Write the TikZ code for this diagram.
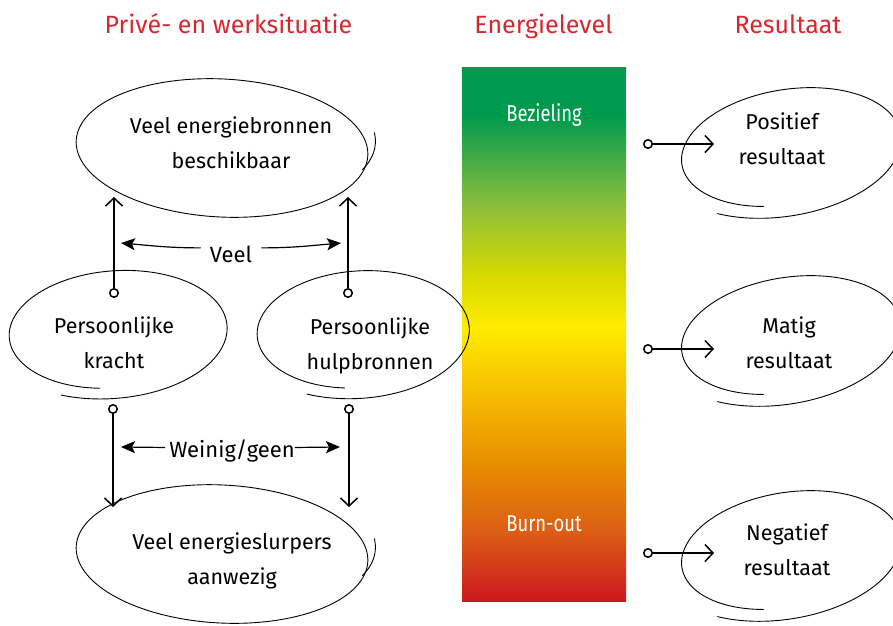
\documentclass[tikz,border=0pt]{standalone}
\usepackage{fontspec}
\setmainfont{Fira Sans}
\newfontfamily\barfont{Fira Sans}[FakeStretch=0.8]
\usetikzlibrary{arrows.meta}
\definecolor{titlered}{HTML}{D7282F}
\definecolor{gA}{HTML}{009A4E}
\definecolor{gB}{HTML}{8CBE3C}
\definecolor{gC}{HTML}{D6DA00}
\definecolor{gD}{HTML}{FFEC00}
\definecolor{gE}{HTML}{F8C300}
\definecolor{gF}{HTML}{E68A00}
\definecolor{gG}{HTML}{DC5F16}
\definecolor{gH}{HTML}{CC181E}
\newcommand{\ls}{\rule[-17.5pt]{0pt}{35pt}}
% cx, cy, rx, ry, rot, t0, t1, s0, s1   (screen coordinates, y down)
\newcommand{\spir}[9]{%
  \draw[ell] plot[smooth,samples=160,domain=#6:#7,variable=\t]
  ({#1+((#8)+((#9)-(#8))*(\t-(#6))/((#7)-(#6)))*((#3)*cos(\t)*cos(#5)-(#4)*sin(\t)*sin(#5))},
   {#2+((#8)+((#9)-(#8))*(\t-(#6))/((#7)-(#6)))*((#3)*cos(\t)*sin(#5)+(#4)*sin(\t)*cos(#5))});}
\tikzset{
  ell/.style={line width=0.9pt, line join=round, line cap=round},
  dot/.style={circle, draw, line width=1.5pt, minimum size=8.5pt, inner sep=0pt, fill=white},
  varrow/.style={line width=1.6pt, -{Straight Barb[length=8pt,width=17pt,line width=1.5pt]}, shorten <=-0.3pt},
  harrow/.style={line width=1.2pt, -{Stealth[length=14pt,width=12pt,inset=3pt]}},
  handtxt/.style={font=\fontsize{21.5}{35}\selectfont, align=center, inner sep=0pt},
  lbl/.style={font=\fontsize{22}{26}\selectfont, anchor=base, inner sep=0pt},
  ttl/.style={font=\fontsize{25}{30}\selectfont, text=titlered, anchor=base, inner sep=0pt},
  barlbl/.style={font=\barfont\fontsize{23}{28}\selectfont, text=white, anchor=base, inner sep=0pt}
}
\begin{document}
\begin{tikzpicture}[x=1pt,y=-1pt]
\useasboundingbox (0,0) rectangle (893,625);
\clip (0,0) rectangle (893,625);
\fill[white] (0,0) rectangle (893,625);

% titles
\node[ttl] (t1) at (228.5,33) {Privé- en werksituatie};
\node[ttl] (t2) at (543.5,33) {Energielevel};
\node[ttl] (t3) at (788,33) {Resultaat};

% energy bar
\fill[gA] (462,67) rectangle (626,115.5);
\shade[top color=gA, bottom color=gB] (462,115) rectangle (626,205.5);
\shade[top color=gB, bottom color=gC] (462,205) rectangle (626,275.5);
\shade[top color=gC, bottom color=gD] (462,275) rectangle (626,327.5);
\shade[top color=gD, bottom color=gE] (462,327) rectangle (626,385.5);
\shade[top color=gE, bottom color=gF] (462,385) rectangle (626,470.5);
\shade[top color=gF, bottom color=gG] (462,470) rectangle (626,530.5);
\shade[top color=gG, bottom color=gH] (462,530) rectangle (626,601);
\node[barlbl] (bez) at (544,121) {Bezieling};
\node[barlbl] (burn) at (544,531) {Burn-out};

% ellipses (hand drawn)
\spir{222}{148}{146}{69}{3}{0}{360}{1}{1}
\spir{222}{148}{146}{69}{3}{-18}{12}{1.09}{0.99}
\spir{222}{554}{146}{69}{3}{0}{360}{1}{1}
\spir{222}{554}{146}{69}{3}{-18}{12}{1.09}{0.99}
\spir{113.4}{332}{100}{56}{-4}{100}{478}{1}{1.2}
\spir{358.6}{332}{97.3}{56}{-3}{100}{478}{1}{1.2}
\spir{786}{150}{112}{61}{-9}{108}{489}{0.9}{1.1}
\spir{786}{338}{112}{61}{-9}{108}{489}{0.9}{1.1}
\spir{786}{553}{112}{61}{-9}{108}{489}{0.9}{1.1}

% ellipse texts
\node[handtxt] (bronnen) at (231,150.5) {\ls Veel energiebronnen\\\ls beschikbaar};
\node[handtxt] (kracht) at (114,351) {\ls Persoonlijke\\\ls kracht};
\node[handtxt] (hulp) at (370,352) {\ls Persoonlijke\\\ls hulpbronnen};
\node[handtxt] (slurp) at (232,567) {\ls Veel energieslurpers\\\ls aanwezig};
\node[handtxt] (pos) at (782,146.5) {\ls Positief\\\ls resultaat};
\node[handtxt] (mat) at (789,350.5) {\ls Matig\\\ls resultaat};
\node[handtxt] (neg) at (787,557.5) {\ls Negatief\\\ls resultaat};

% connector start dots and end coordinates
\node[dot] (kUp) at (114,293) {};
\node[dot] (hUp) at (348,293) {};
\node[dot] (kDn) at (113,409) {};
\node[dot] (hDn) at (349,409) {};
\node[dot] (pS) at (648,144) {};
\node[dot] (mS) at (648,349) {};
\node[dot] (nS) at (648,553) {};
\coordinate (bL) at (114,197);
\coordinate (bR) at (348,197);
\coordinate (sL) at (113,507);
\coordinate (sR) at (349,507);
\coordinate (pE) at (714,144);
\coordinate (mE) at (714,349);
\coordinate (nE) at (714,553);
\coordinate (veelL) at (121,243);
\coordinate (veelR) at (341,243);
\coordinate (weinL) at (121,447);
\coordinate (weinR) at (340,447);

\draw[varrow] (kUp) -- (bL);
\draw[varrow] (hUp) -- (bR);
\draw[varrow] (kDn) -- (sL);
\draw[varrow] (hDn) -- (sR);
\draw[varrow] (pS) -- (pE);
\draw[varrow] (mS) -- (mE);
\draw[varrow] (nS) -- (nE);

% labelled horizontal arrows
\node[lbl] (veel) at (231,262) {Veel};
\node[lbl] (wein) at (232,457) {Weinig/geen};
\draw[harrow] ([xshift=-9pt,yshift=6pt]veel.west) to[out=180,in=-5] (veelL);
\draw[harrow] ([xshift=9pt,yshift=6pt]veel.east) to[out=0,in=185] (veelR);
\draw[harrow] ([xshift=-4pt,yshift=3pt]wein.west) -- (weinL);
\draw[harrow] ([xshift=0pt,yshift=3pt]wein.east) -- (weinR);
\end{tikzpicture}
\end{document}
